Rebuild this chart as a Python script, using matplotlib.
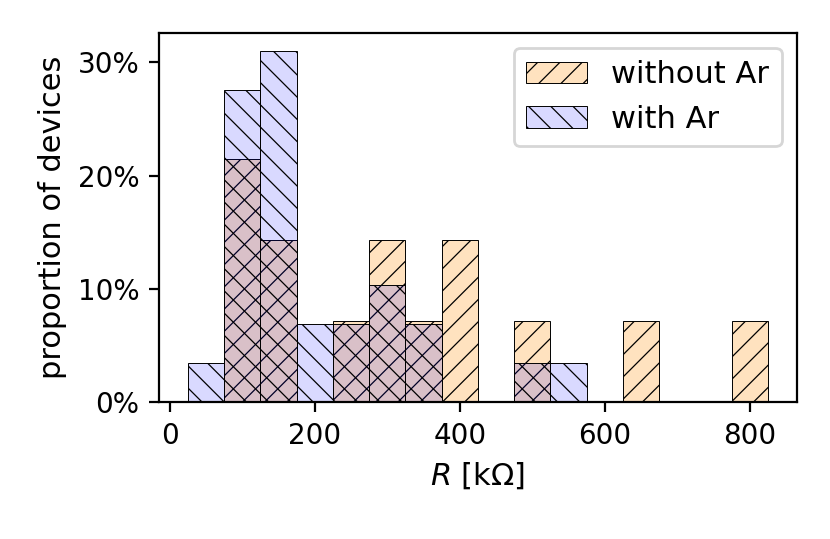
import matplotlib
matplotlib.use("Agg")
import matplotlib.pyplot as plt
from matplotlib.ticker import PercentFormatter
import numpy as np

bin_edges = [25, 75, 125, 175, 225, 275, 325, 375, 425, 475, 525, 575, 625, 675, 725, 775, 825]
# counts per bin
without_ar_counts = [0, 3, 2, 0, 1, 2, 1, 2, 0, 1, 0, 0, 1, 0, 0, 1]
with_ar_counts = [1, 8, 9, 2, 2, 3, 2, 0, 0, 1, 1, 0, 0, 0, 0, 0]

plt.rcParams['hatch.linewidth'] = 0.45
fig = plt.figure(figsize=(4.15, 2.695), dpi=200)
ax = fig.add_axes([0.1916, 0.254, 0.7684, 0.6848])

edges = np.array(bin_edges, dtype=float)
centers = (edges[:-1] + edges[1:]) / 2
wo = np.array(without_ar_counts, dtype=float)
wa = np.array(with_ar_counts, dtype=float)

ax.hist(centers, bins=edges, weights=100 * wo / wo.sum(), color=(1.0, 0.55, 0.0, 0.25),
        edgecolor='black', linewidth=0.35, hatch='///', label='without Ar')
ax.hist(centers, bins=edges, weights=100 * wa / wa.sum(), color=(0.0, 0.0, 1.0, 0.15),
        edgecolor='black', linewidth=0.35, hatch='\\\\\\', label='with Ar')

ax.yaxis.set_major_formatter(PercentFormatter(decimals=0))
ax.set_yticks([0, 10, 20, 30])
ax.set_xticks([0, 200, 400, 600, 800])
ax.set_xlabel(r'$R$ [k$\Omega$]', fontsize=11)
ax.set_ylabel('proportion of devices', fontsize=11)
ax.legend(loc='upper right', fontsize=11)
fig.savefig('out.png', dpi=200)
